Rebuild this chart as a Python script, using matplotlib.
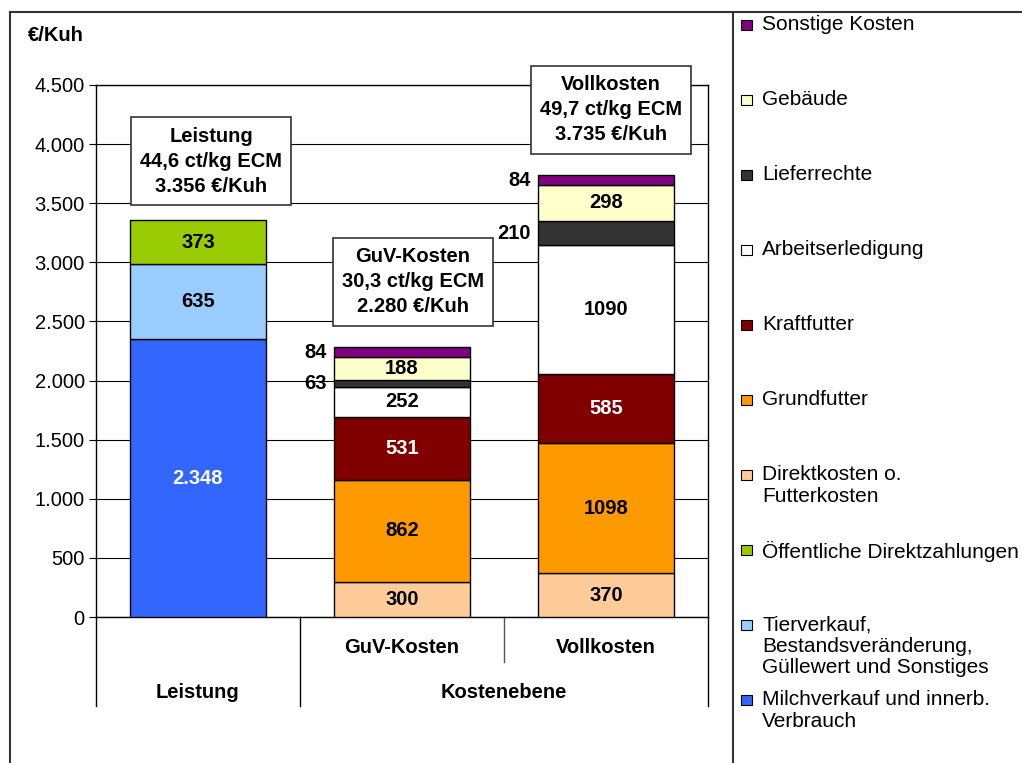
import matplotlib.pyplot as plt
import matplotlib.transforms as mtransforms
from matplotlib.lines import Line2D
from matplotlib.patches import Rectangle

plt.rcParams['font.family'] = ['Liberation Sans', 'DejaVu Sans']

# Kategorien der x-Achse
kategorien = ["Leistung", "GuV-Kosten", "Vollkosten"]
gruppen = ["Leistung", "Kostenebene"]

# Reihen von unten nach oben gestapelt (Werte in EUR je Kuh)
reihen = [
    "Milchverkauf und innerb.\nVerbrauch",
    "Tierverkauf,\nBestandsveränderung,\nGüllewert und Sonstiges",
    "Öffentliche Direktzahlungen",
    "Direktkosten o.\nFutterkosten",
    "Grundfutter",
    "Kraftfutter",
    "Arbeitserledigung",
    "Lieferrechte",
    "Gebäude",
    "Sonstige Kosten",
]
milchverkauf = [2348, 0, 0]
tierverkauf = [635, 0, 0]
direktzahlungen = [373, 0, 0]
direktkosten = [0, 300, 370]
grundfutter = [0, 862, 1098]
kraftfutter = [0, 531, 585]
arbeit = [0, 252, 1090]
lieferrechte = [0, 63, 210]
gebaeude = [0, 188, 298]
sonstige = [0, 84, 84]
werte = [milchverkauf, tierverkauf, direktzahlungen, direktkosten, grundfutter,
         kraftfutter, arbeit, lieferrechte, gebaeude, sonstige]

farben = ["#3366FF", "#99CCFF", "#99CC00", "#FFCC99", "#FF9900",
          "#800000", "#FFFFFF", "#333333", "#FFFFCC", "#800080"]
textfarben = ["white", "black", "black", "black", "black",
              "white", "black", "black", "black", "black"]
aussen = [False, False, False, False, False, False, False, True, False, True]

# Kästen mit Summen
kasten_text = ["Leistung\n44,6 ct/kg ECM\n3.356 €/Kuh",
               "GuV-Kosten\n30,3 ct/kg ECM\n2.280 €/Kuh",
               "Vollkosten\n49,7 ct/kg ECM\n3.735 €/Kuh"]
kasten_x = [0.064, 1.054, 2.024]
kasten_y = [3857, 2834, 4289]

def de_format(v):
    return f"{v:,.0f}".replace(",", ".")

fig = plt.figure(figsize=(10.22, 7.63), dpi=100)
ax = fig.add_axes([0.0939, 0.1913, 0.5989, 0.6973])

breite = 0.67
boden = [0, 0, 0]
for i, (name, vals) in enumerate(zip(reihen, werte)):
    for j, v in enumerate(vals):
        if v == 0:
            continue
        ax.bar(j, v, breite, bottom=boden[j], color=farben[i], edgecolor="black",
               linewidth=1, zorder=3)
        mitte = boden[j] + v / 2
        txt = de_format(v) if j == 0 else str(v)
        if aussen[i]:
            ax.text(j - breite / 2 - 0.035, mitte, txt, ha="right", va="center",
                    fontsize=14.5, fontweight="bold", color="black", zorder=4)
        else:
            ax.text(j, mitte, txt, ha="center", va="center", fontsize=14.5,
                    fontweight="bold", color=textfarben[i], zorder=4)
    boden = [b + v for b, v in zip(boden, vals)]

for t, kx, ky in zip(kasten_text, kasten_x, kasten_y):
    ax.text(kx, ky, t, ha="center", va="center", fontsize=14.5, fontweight="bold",
            linespacing=1.4, zorder=5, clip_on=False,
            bbox=dict(boxstyle="square,pad=0.45", facecolor="white",
                      edgecolor="#333333", linewidth=1.2))

ax.set_xlim(-0.5, 2.5)
ax.set_ylim(0, 4500)
ax.set_yticks(range(0, 4501, 500))
ax.set_yticklabels([de_format(v) for v in range(0, 4501, 500)], fontsize=14.5)
ax.yaxis.grid(True, color="black", linewidth=0.8, zorder=0)
ax.set_axisbelow(True)
ax.set_xticks([])
ax.tick_params(axis="y", length=5, width=0.8, pad=3)
for s in ax.spines.values():
    s.set_linewidth(1.0)
    s.set_color("black")

# mehrstufige Kategorienachse
trans = mtransforms.blended_transform_factory(ax.transData, ax.transAxes)
for j in (1, 2):
    ax.text(j, -0.058, kategorien[j], transform=trans, ha="center", va="center",
            fontsize=14.5, fontweight="bold")
ax.text(0, -0.141, gruppen[0], transform=trans, ha="center", va="center",
        fontsize=14.5, fontweight="bold")
ax.text(1.5, -0.141, gruppen[1], transform=trans, ha="center", va="center",
        fontsize=14.5, fontweight="bold")
for xv in (-0.5, 0.5, 2.5):
    ax.plot([xv, xv], [0, -0.167], transform=trans, color="black", lw=1,
            clip_on=False)
ax.plot([1.5, 1.5], [0, -0.085], transform=trans, color="#555555", lw=1,
        clip_on=False)

fig.text(0.0274, 0.954, "€/Kuh", fontsize=14.5, fontweight="bold",
         ha="left", va="center")

# Legende rechts
for k, i in enumerate(reversed(range(len(reihen)))):
    yc = 1 - (25 + 75 * k) / 763
    fig.add_artist(Rectangle((0.7251, yc - 0.0072), 0.0108, 0.0144,
                             facecolor=farben[i], edgecolor="black", lw=0.8,
                             transform=fig.transFigure))
    fig.text(0.7456, yc + 0.0125, reihen[i], fontsize=15, ha="left", va="top",
             linespacing=1.14)

# Rahmen
rahmen = dict(color="#333333", lw=1.5, transform=fig.transFigure)
fig.add_artist(Line2D([0.0098, 1.0], [0.9843, 0.9843], **rahmen))
fig.add_artist(Line2D([0.0098, 0.0098], [0.0, 0.9843], **rahmen))
fig.add_artist(Line2D([0.7172, 0.7172], [0.0, 0.9843], **rahmen))

fig.savefig("out.png", dpi=100)
